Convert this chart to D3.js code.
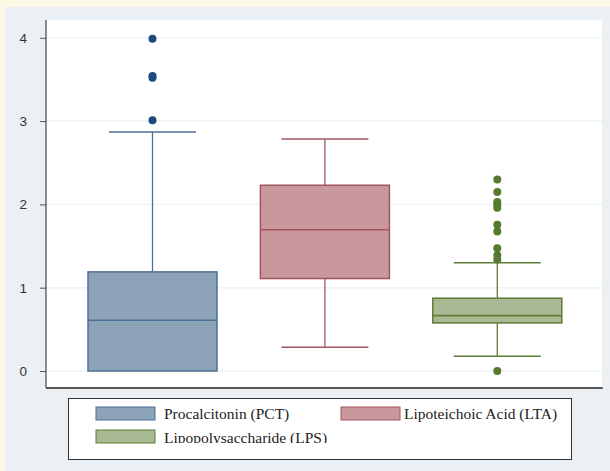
<!DOCTYPE html>
<html><head><meta charset="utf-8">
<script src="https://cdn.jsdelivr.net/npm/d3@7"></script>
<style>body{margin:0;background:#fdf9e7;}svg{display:block;}</style>
</head><body>
<svg id="c" width="610" height="471"></svg>
<script>
const categories = ["Procalcitonin (PCT)", "Lipoteichoic Acid (LTA)", "Lipopolysaccharide (LPS)"];
const lowerWhisker = [0, 0.285, 0.177];
const q1 = [0, 1.11, 0.577];
const median = [0.61, 1.695, 0.665];
const q3 = [1.19, 2.23, 0.874];
const upperWhisker = [2.87, 2.785, 1.30];
const outliers = [
  [3.99, 3.54, 3.52, 3.01],
  [],
  [2.30, 2.15, 2.03, 2.00, 1.96, 1.755, 1.675, 1.475, 1.39, 1.34, 0.0]
];
const yTicks = [0, 1, 2, 3, 4];
const fills = ["#8ca3b8", "#c8989c", "#a9b993"];
const strokes = ["#4d7096", "#a25560", "#5e7c36"];
const dots = ["#1b4b7b", "#a25560", "#587a30"];

const svg = d3.select("#c");
svg.append("rect").attr("x",5).attr("y",7).attr("width",605).attr("height",464).attr("fill","#eaf0f3");
const L=46,R=603,T=20,B=388;
svg.append("rect").attr("x",L).attr("y",T).attr("width",R-L).attr("height",B-T).attr("fill","#fff");

const y = d3.scaleLinear().domain([0,4]).range([371,37.8]);
const x = d3.scalePoint().domain(categories).range([152.5,497.3]);
const bw = 129, cw = 87;

// gridlines
svg.append("g").selectAll("line").data(yTicks).join("line")
  .attr("x1",L).attr("x2",R).attr("y1",d=>y(d)).attr("y2",d=>y(d))
  .attr("stroke","#eef3f3").attr("stroke-width",1.5);

// y axis
const ax = svg.append("g").attr("transform",`translate(${L},0)`)
  .call(d3.axisLeft(y).tickValues(yTicks).tickSize(6).tickPadding(13).tickFormat(d3.format("d")));
ax.select(".domain").remove();
ax.selectAll(".tick line").attr("stroke","#555");
ax.selectAll(".tick text").attr("fill","#333").style("font-family","Liberation Sans, Arial, sans-serif").style("font-size","13.5px");
svg.append("line").attr("x1",L).attr("x2",L).attr("y1",T).attr("y2",B).attr("stroke","#444").attr("stroke-width",1.2);
svg.append("line").attr("x1",L).attr("x2",R).attr("y1",B).attr("y2",B).attr("stroke","#555").attr("stroke-width",2);
svg.append("line").attr("x1",R).attr("x2",R).attr("y1",T).attr("y2",B).attr("stroke","#e4e8ea").attr("stroke-width",1);

const g = svg.append("g");
categories.forEach((c,i)=>{
  const cx = x(c);
  const gg = g.append("g");
  gg.append("line").attr("x1",cx).attr("x2",cx).attr("y1",y(q3[i])).attr("y2",y(upperWhisker[i])).attr("stroke",strokes[i]).attr("stroke-width",1.3);
  gg.append("line").attr("x1",cx).attr("x2",cx).attr("y1",y(q1[i])).attr("y2",y(lowerWhisker[i])).attr("stroke",strokes[i]).attr("stroke-width",1.3);
  gg.append("line").attr("x1",cx-cw/2).attr("x2",cx+cw/2).attr("y1",y(upperWhisker[i])).attr("y2",y(upperWhisker[i])).attr("stroke",strokes[i]).attr("stroke-width",1.5);
  if (lowerWhisker[i] !== q1[i])
    gg.append("line").attr("x1",cx-cw/2).attr("x2",cx+cw/2).attr("y1",y(lowerWhisker[i])).attr("y2",y(lowerWhisker[i])).attr("stroke",strokes[i]).attr("stroke-width",1.5);
  gg.append("rect").attr("x",cx-bw/2).attr("width",bw).attr("y",y(q3[i])).attr("height",y(q1[i])-y(q3[i]))
    .attr("fill",fills[i]).attr("stroke",strokes[i]).attr("stroke-width",1.5);
  gg.append("line").attr("x1",cx-bw/2).attr("x2",cx+bw/2).attr("y1",y(median[i])).attr("y2",y(median[i])).attr("stroke",strokes[i]).attr("stroke-width",1.6);
  gg.selectAll("circle").data(outliers[i]).join("circle")
    .attr("cx",cx).attr("cy",d=>y(d)).attr("r",4).attr("fill",dots[i]);
});

// legend
const lg = svg.append("g");
lg.append("rect").attr("x",68.5).attr("y",398.5).attr("width",503).attr("height",61).attr("fill","#fff").attr("stroke","#333").attr("stroke-width",1);
const legendPos = [{sx:96,sy:407,tx:164,ty:419},{sx:341,sy:407,tx:404,ty:419},{sx:96,sy:430,tx:164,ty:443}];
lg.append("clipPath").attr("id","lc").append("rect").attr("x",60).attr("y",398).attr("width",520).attr("height",45);
categories.forEach((c,i)=>{
  const p = legendPos[i];
  lg.append("rect").attr("x",p.sx).attr("y",p.sy).attr("width",59).attr("height",13)
    .attr("fill",fills[i]).attr("stroke",strokes[i]).attr("stroke-width",1);
  lg.append("text").attr("x",p.tx).attr("y",p.ty).text(c)
    .attr("clip-path", i===2 ? "url(#lc)" : null)
    .style("font-family","Liberation Serif, Times New Roman, serif").style("font-size","15.5px").attr("fill","#222");
});
</script>
</body></html>
